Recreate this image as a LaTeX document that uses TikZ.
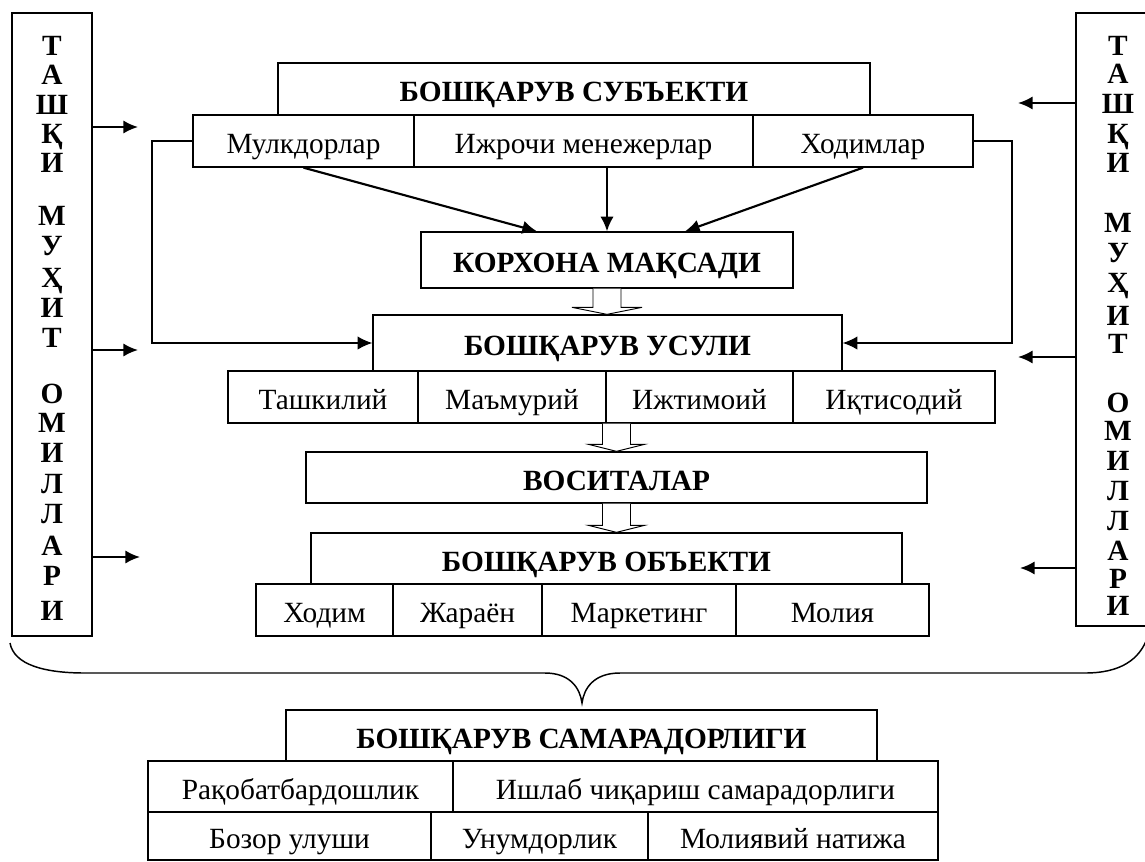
\documentclass[tikz,border=0pt]{standalone}
\usepackage{fontspec}
\setmainfont{Liberation Serif}
\usetikzlibrary{arrows.meta,calc}

\newcommand\hollowarrow[4]{%
  \draw[hollow] ($(#2.south -| #1)+(-14,0)$) -- ($(#3.north -| #1)+(-14,-7)$)
    -- ($(#3.north -| #1)+(-#4,-7)$) -- (#3.north -| #1)
    -- ($(#3.north -| #1)+(#4,-7)$) -- ($(#3.north -| #1)+(14,-7)$)
    -- ($(#2.south -| #1)+(14,0)$);}

\begin{document}
\begin{tikzpicture}[x=0.75pt,y=0.75pt,yscale=-1,xscale=1,
  wh/.style 2 args={minimum width=#1*0.75pt,minimum height=#2*0.75pt},
  box/.style={draw,line width=1pt,inner sep=0pt,text height=19pt,text depth=0pt,
    font=\fontsize{22}{26}\selectfont},
  title/.style={box,font=\fontsize{22}{26}\selectfont\bfseries},
  vlet/.style={inner sep=0pt,anchor=base,font=\fontsize{22}{26}\selectfont\bfseries},
  link/.style={line width=1.1pt},
  arr/.style={-{Latex[length=11pt,width=10pt]},line width=1.6pt},
  hollow/.style={draw,fill=white,line width=0.7pt}]
\useasboundingbox (0,0) rectangle (1145,861);
\clip (0,0) rectangle (1145,861);

%Shape: outer factors, left and right
\node[box,wh={80}{623}] (extl) at (52,324.5) {};
\node[box,wh={84}{613}] (extr) at (1118,319.5) {};
\foreach \y/\l in {45/Т,74/А,104/Ш,133/Қ,162/И,215/М,245/У,277/Ҳ,307/И,337/Т,
                   393/О,422/М,452/И,483/Л,513/Л,545/А,575/Р,610/И}
  \node[vlet] (L\y) at (52,\y+10) {\l};
\foreach \y/\l in {45/Т,73/А,103/Ш,133/Қ,162/И,222/М,252/У,282/Ҳ,315/И,343/Т,
                   402/О,430/М,460/И,490/Л,520/Л,550/А,578/Р,605/И}
  \node[vlet] (R\y) at (1118,\y+10) {\l};

%Shape: subject
\node[title,wh={592}{52}] (subj) at (574,89) {БОШҚАРУВ СУБЪЕКТИ};
\node[box,wh={221}{52}] (mulk) at (303.5,141) {Мулкдорлар};
\node[box,wh={339}{52}] (ijro) at (583.5,141) {Ижрочи менежерлар};
\node[box,wh={220}{52}] (xodl) at (863,141) {Ходимлар};

%Shape: goal and methods
\node[title,wh={372}{56}] (korx) at (607,260) {КОРХОНА МАҚСАДИ};
\node[title,wh={469}{56}] (usul) at (607.5,343) {БОШҚАРУВ УСУЛИ};
\node[box,wh={190}{52}] (tash) at (323,397) {Ташкилий};
\node[box,wh={188}{52}] (mamu) at (512,397) {Маъмурий};
\node[box,wh={187}{52}] (ijti) at (699.5,397) {Ижтимоий};
\node[box,wh={202}{52}] (iqti) at (894,397) {Иқтисодий};

%Shape: means and object
\node[title,wh={621}{51}] (vosi) at (616.5,477.5) {ВОСИТАЛАР};
\node[title,wh={591}{51}] (obye) at (606.5,558.5) {БОШҚАРУВ ОБЪЕКТИ};
\node[box,wh={137}{52}] (xodi) at (324.5,610) {Ходим};
\node[box,wh={149}{52}] (jara) at (467.5,610) {Жараён};
\node[box,wh={194}{52}] (mark) at (639,610) {Маркетинг};
\node[box,wh={193}{52}] (moli) at (832.5,610) {Молия};

%Shape: efficiency
\node[title,wh={591}{51}] (sama) at (581.5,735.5) {БОШҚАРУВ САМАРАДОРЛИГИ};
\node[box,wh={305}{51}] (raqo) at (300.5,786.5) {Рақобатбардошлик};
\node[box,wh={485}{51}] (ishl) at (695.5,786.5) {Ишлаб чиқариш самарадорлиги};
\node[box,wh={283}{48}] (bozo) at (289.5,836) {Бозор улуши};
\node[box,wh={217}{48}] (unum) at (539.5,836) {Унумдорлик};
\node[box,wh={290}{48}] (moln) at (793,836) {Молиявий натижа};

%Straight Lines: subject to goal
\draw[arr] (mulk.south) -- ($(korx.north)+(-70,0)$);
\draw[arr] (korx.north |- ijro.south) -- (korx.north);
\draw[arr] (xodl.south) -- ($(korx.north)+(78,0)$);

%Straight Lines: subject to methods
\coordinate (lbend) at (152,141);
\coordinate (rbend) at (1012,141);
\draw[arr,line width=1.1pt] (mulk.west) -- (lbend) |- (usul.west);
\draw[arr,line width=1.1pt] (xodl.east) -- (rbend) |- (usul.east);

%Block arrows
\hollowarrow{korx}{korx}{usul}{35}
\hollowarrow{vosi}{mamu}{vosi}{28}
\hollowarrow{vosi}{vosi}{obye}{28}

%Straight Lines: outer influence
\coordinate (inl1) at (138,127);
\coordinate (inl2) at (138,350);
\coordinate (inl3) at (140,557);
\coordinate (inr1) at (1018,103);
\coordinate (inr2) at (1018,357);
\coordinate (inr3) at (1020,568);
\foreach \c in {inl1,inl2,inl3}
  \draw[arr] (extl.east |- \c) -- (\c);
\foreach \c in {inr1,inr2,inr3}
  \draw[arr] (extr.west |- \c) -- (\c);

%Curve Lines: brace
\draw[link] (10,643) .. controls (14,665) and (45,673) .. (85,673) -- (545,673)
  .. controls (570,673) and (580,688) .. (582,703)
  .. controls (584,688) and (594,673) .. (620,673) -- (1085,673)
  .. controls (1120,673) and (1140,660) .. (1148,636);

\end{tikzpicture}
\end{document}
